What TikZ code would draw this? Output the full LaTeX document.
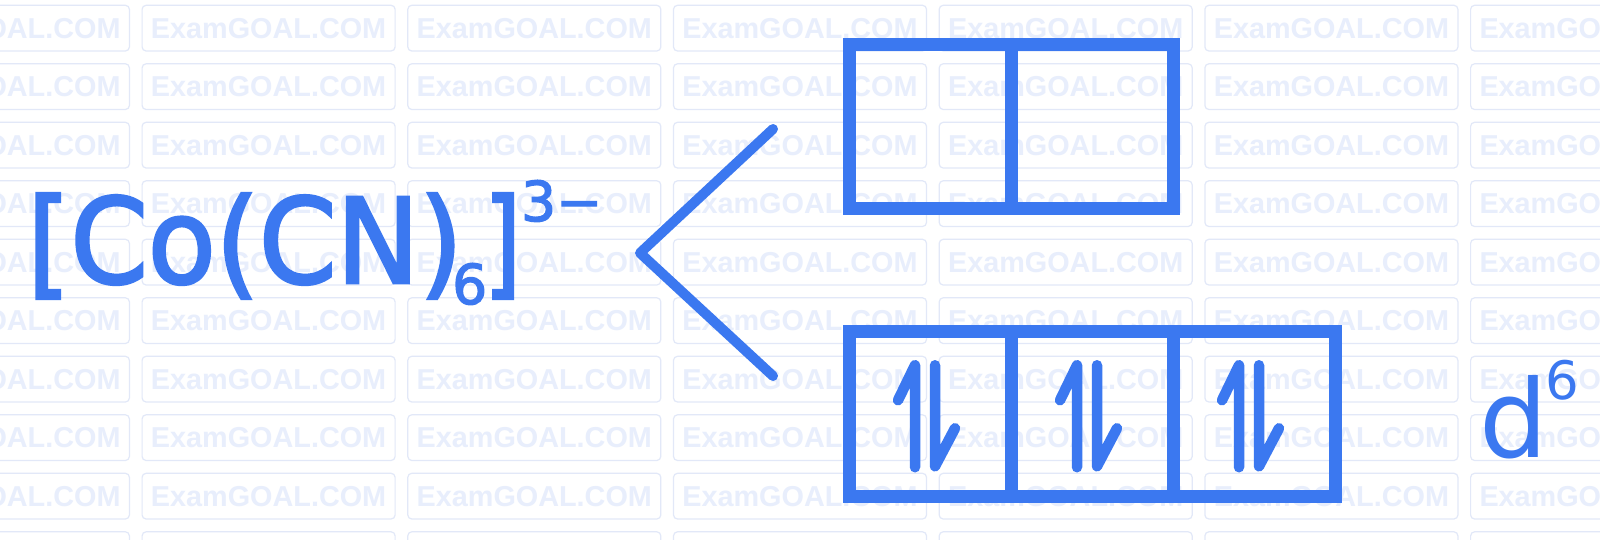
\documentclass[tikz,border=0pt]{standalone}
\usepackage{fontspec}
\setmainfont{DejaVu Sans}
\newfontfamily\wmfont{Liberation Sans}
\newfontfamily\fml{DejaVu Sans}[BoldFont={DejaVu Sans}, BoldFeatures={FakeBold=2.5}]
\definecolor{mainblue}{RGB}{59,120,240}
\definecolor{wmtext}{RGB}{232,238,252}
\definecolor{wmline}{RGB}{226,232,248}
\begin{document}
\begin{tikzpicture}[x=1pt,y=-1pt,
  wm/.style={draw=wmline, line width=1.2pt, rounded corners=4pt, minimum width=253pt, minimum height=45.7pt, inner sep=0pt, text=wmtext, font=\wmfont\bfseries\fontsize{28.8}{30}\selectfont},
  cell/.style={draw=mainblue, line width=13pt, minimum width=162pt, inner sep=0pt},
  spin/.style={draw=mainblue, line width=10.5pt, line cap=round, line join=round},
  chev/.style={draw=mainblue, line width=10pt, line cap=round, line join=round},
  big/.style={text=mainblue, inner sep=0pt, font=\fml\bfseries\fontsize{118}{118}\selectfont},
  small/.style={text=mainblue, inner sep=0pt, font=\fml\bfseries\fontsize{55}{55}\selectfont},
]
\useasboundingbox (0,0) rectangle (1600,540);
\fill[white] (0,0) rectangle (1600,540);
\begin{scope}
\clip (0,0) rectangle (1600,540);
\foreach \i in {0,...,6} {
  \foreach \j in {0,...,9} {
    \node[wm] (wm-\i-\j) at ({2.9+265.7*\i}, {28.15+58.5*\j}) {ExamGOAL.COM};
  }
}
\end{scope}
% formula
\node[big, anchor=base west] (cplx) at (27,283) {\scalebox{0.94}[1]{[Co(CN)}};
\node[small, anchor=base west] (sub) at (452,304) {6};
\node[big, anchor=base west] (rbr) at (484,283) {\scalebox{0.8}[1]{]}};
\node[small, anchor=base west] (chg) at (521,221) {3−};
% chevron
\coordinate (ctop) at (773,129);
\coordinate (cvert) at (640,253);
\coordinate (cbot) at (773,376);
\draw[chev] (ctop) -- (cvert) -- (cbot);
% top orbital boxes
\node[cell, minimum height=164pt] (t1) at (930,126.5) {};
\node[cell, minimum height=164pt] (t2) at (1092,126.5) {};
% bottom orbital boxes
\node[cell, minimum height=165pt] (b1) at (930,414.25) {};
\node[cell, minimum height=165pt] (b2) at (1092,414.25) {};
\node[cell, minimum height=165pt] (b3) at (1254,414.25) {};
\foreach \c in {b1,b2,b3} {
  \begin{scope}[shift={(\c.center)}]
    \draw[spin] (-15,53) -- (-15,-49) -- (-32,-14);
    \draw[spin] (5,-49) -- (5,52) -- (25,14);
  \end{scope}
}
% d6
\node[text=mainblue, inner sep=0pt, font=\fontsize{108}{108}\selectfont, anchor=base west] (d) at (1479,457) {d};
\node[text=mainblue, inner sep=0pt, font=\fontsize{53}{53}\selectfont, anchor=base west] (dsup) at (1545,399) {6};
\end{tikzpicture}
\end{document}
